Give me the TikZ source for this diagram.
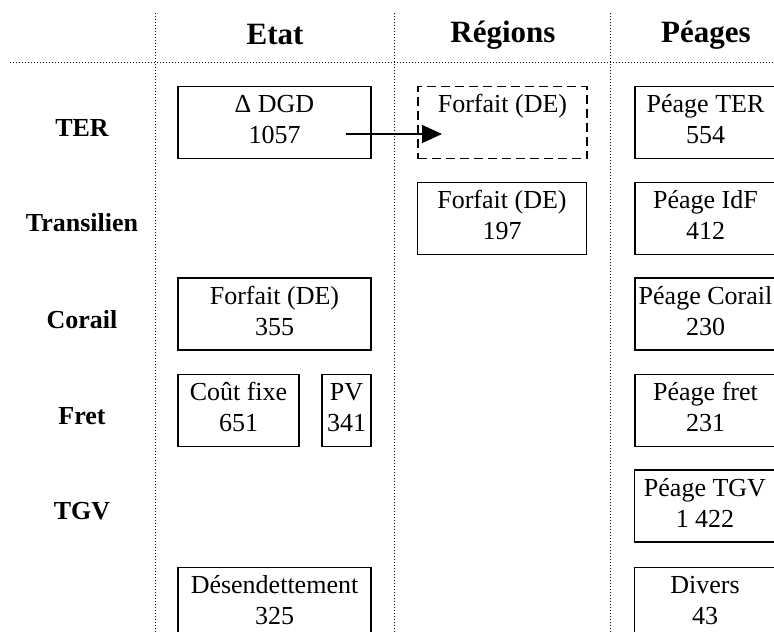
\documentclass[tikz,border=0pt]{standalone}
\usepackage{fontspec}
\setmainfont{Liberation Serif}
\usetikzlibrary{arrows.meta, positioning}

\begin{document}
\begin{tikzpicture}[x=1pt, y=-1pt,
	cell/.style={draw, line width=1.4pt, align=center, inner sep=0pt, minimum height=72pt, text depth=7pt, font=\fontsize{26}{31}\selectfont},
	rowlab/.style={font=\bfseries\fontsize{26}{31}\selectfont},
	colhead/.style={font=\bfseries\fontsize{31}{36}\selectfont},
	grid/.style={line width=1pt, dash pattern=on 1pt off 2pt}]
	\useasboundingbox (0,0) rectangle (774,632);
	\coordinate (hl) at (10,62); \coordinate (hr) at (774,62);
	\coordinate (v1t) at (155,13); \coordinate (v1b) at (155,632);
	\coordinate (v2t) at (394,13); \coordinate (v2b) at (394,632);
	\coordinate (v3t) at (610,13); \coordinate (v3b) at (610,632);
	\draw[grid] (hl) -- (hr);
	\draw[grid] (v1t) -- (v1b);
	\draw[grid] (v2t) -- (v2b);
	\draw[grid] (v3t) -- (v3b);
	\node[colhead] (etat) at (275,35) {Etat};
	\node[colhead] (regions) at (503,35) {Régions};
	\node[colhead] (peages) at (706,35) {Péages};
	\node[rowlab] (ter) at (82,128) {TER};
	\node[rowlab] (transilien) at (82,223) {Transilien};
	\node[rowlab] (corail) at (82,320) {Corail};
	\node[rowlab] (fret) at (82,416) {Fret};
	\node[rowlab] (tgv) at (82,511) {TGV};
	\node[cell, minimum width=193pt] (dgd) at (274.5,122.5) {Δ DGD\\1057};
	\node[cell, minimum width=193pt] (forfcorail) at (274.5,314) {Forfait (DE)\\355};
	\node[cell, minimum width=121pt] (coutfixe) at (238.5,410.5) {Coût fixe\\651};
	\node[cell, minimum width=49pt] (pv) at (346.5,410.5) {PV\\341};
	\node[cell, minimum width=193pt] (desendet) at (274.5,603.5) {Désendettement\\325};
	\node[cell, dash pattern=on 9pt off 5pt, minimum width=169pt] (forfter) at (502.5,122.5) {Forfait (DE)\\\phantom{0}};
	\node[cell, minimum width=169pt] (forfidf) at (502,218.5) {Forfait (DE)\\197};
	\node[cell, minimum width=141pt] (pter) at (705.5,122.5) {Péage TER\\554};
	\node[cell, minimum width=141pt] (pidf) at (705.5,218.5) {Péage IdF\\412};
	\node[cell, minimum width=141pt] (pcorail) at (705.5,314) {Péage Corail\\230};
	\node[cell, minimum width=141pt] (pfret) at (705.5,410.5) {Péage fret\\231};
	\node[cell, minimum width=141pt] (ptgv) at (705,506) {Péage TGV\\1 422};
	\node[cell, minimum width=141pt] (divers) at (705,603.5) {Divers\\43};
	\coordinate (dgd-out) at (346,134);
	\coordinate (forf-in) at (442,134);
	\draw[-{Triangle[length=20pt,width=18pt]}, line width=1.3pt] (dgd-out) -- (forf-in);
\end{tikzpicture}
\end{document}
